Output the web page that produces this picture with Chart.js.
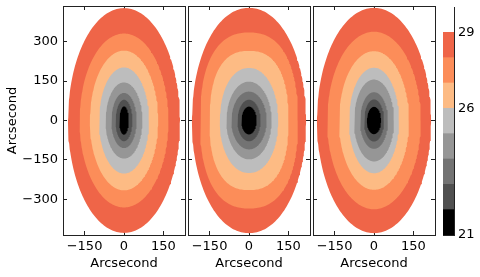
<!DOCTYPE html>
<html>
<head>
<meta charset="utf-8">
<script src="https://cdn.jsdelivr.net/npm/chart.js@4.4.1/dist/chart.umd.min.js"></script>
<style>
  body { margin: 0; background: #fff; }
  #wrap { position: relative; width: 480px; height: 277px; }
  #wrap canvas { position: absolute; left: 0; top: 0; }
</style>
</head>
<body>
<div id="wrap">
  <canvas id="p1" width="480" height="277"></canvas>
  <canvas id="p2" width="480" height="277"></canvas>
  <canvas id="p3" width="480" height="277"></canvas>
  <canvas id="cbar" width="480" height="277"></canvas>
</div>
<script>
// contour levels (upper edge of each filled band), inner to outer
const levels = [22, 23, 24, 25, 26, 27, 28, 29];
const bandColors = ['#000000', '#505050', '#737373', '#969696', '#bdbdbd', '#fdbb84', '#fc8d59', '#ef6548'];

// semi-axes of each contour in arcsec
const leftSemiX  = [18, 32, 48, 70, 95, 130, 169, 213];
const leftSemiY  = [54, 79, 105, 145, 202, 266, 331, 428];
const leftShape  = [2, 2, 2, 2, 2, 2, 2, 2];

const midSemiX   = [29, 44, 67, 86, 111, 150, 186, 217];
const midSemiY   = [53, 79, 110, 148, 200, 265, 335, 429];
const midShape   = [2, 2, 2, 2, 2.1, 2.45, 2.4, 2.05];

const rightSemiX = [27, 38, 53, 76, 95, 133, 178, 217];
const rightSemiY = [52, 80, 108, 156, 201, 264, 338, 429];
const rightShape = [2, 2, 2, 2, 2, 2, 2, 2];

const xTicks = [-150, 0, 150];
const yTicks = [-300, -150, 0, 150, 300];

// colorbar
const cbarEdges = [21, 22, 23, 24, 25, 26, 27, 28, 29, 30];
const cbarColors = bandColors.concat(['#ffffff']);
const cbarTicks = [21, 26, 29];

const FONT = { family: 'DejaVu Sans', size: 13 };
const INK = '#222';

function outline(a, b, p) {
  const pts = [];
  for (let k = 0; k <= 240; k++) {
    const t = k / 240 * 2 * Math.PI;
    const c = Math.cos(t), s = Math.sin(t);
    pts.push({
      x: a * Math.sign(c) * Math.pow(Math.abs(c), 2 / p),
      y: b * Math.sign(s) * Math.pow(Math.abs(s), 2 / p)
    });
  }
  return pts;
}

const minus = v => String(v).replace('-', '\u2212');

// pin a scale to a fixed thickness and drop the label overflow padding
function pin(size) {
  return s => {
    if (s.isHorizontal()) s.height = size; else s.width = size;
    s.paddingTop = s.paddingBottom = s.paddingLeft = s.paddingRight = 0;
  };
}

function axis(pos, min, max, ticks, opts) {
  return {
    type: 'linear',
    axis: (pos === 'top' || pos === 'bottom') ? 'x' : 'y',
    position: pos,
    min: min, max: max,
    afterBuildTicks: s => { s.ticks = ticks.map(v => ({ value: v })); },
    afterFit: pin(opts.size),
    grid: { drawOnChartArea: false, drawTicks: true, tickLength: -4, color: INK },
    border: { display: true, color: INK, width: 1 },
    ticks: { display: !!opts.labels, font: FONT, color: '#000', padding: opts.pad || 0, callback: minus },
    title: opts.title ? { display: true, text: 'Arcsecond', font: FONT, color: '#000', padding: opts.title } : { display: false }
  };
}

function panel(id, left, semiX, semiY, shape, showY) {
  const datasets = levels.map((lv, i) => ({
    label: String(lv),
    data: outline(semiX[i], semiY[i], shape[i]),
    backgroundColor: bandColors[i],
    borderWidth: 0,
    pointRadius: 0,
    fill: 'shape',
    tension: 0,
    order: i
  }));
  new Chart(document.getElementById(id), {
    type: 'line',
    data: { datasets: datasets },
    options: {
      responsive: false,
      animation: false,
      events: [],
      layout: { padding: { left: showY ? 0 : left, right: 480 - (left + 122), top: 6, bottom: 0 } },
      plugins: { legend: { display: false }, tooltip: { enabled: false } },
      scales: {
        x: axis('bottom', -232, 232, xTicks, { size: 42, labels: true, pad: 8, title: { top: 0, bottom: 6 } }),
        x2: axis('top', -232, 232, xTicks, { size: 0 }),
        y: axis('left', -436, 436, yTicks, showY ? { size: 63, labels: true, pad: 9, title: { top: 5, bottom: 0 } } : { size: 0 }),
        y2: axis('right', -436, 436, yTicks, { size: 0 })
      }
    }
  });
}

panel('p1', 63, leftSemiX, leftSemiY, leftShape, true);
panel('p2', 188, midSemiX, midSemiY, midShape, false);
panel('p3', 313, rightSemiX, rightSemiY, rightShape, false);

// colorbar
const cbarSets = cbarColors.map((c, i) => ({
  data: [[cbarEdges[i], cbarEdges[i + 1]]],
  backgroundColor: c,
  borderWidth: 0,
  barPercentage: 1,
  categoryPercentage: 1,
  grouped: false
}));

const plainBorder = { display: true, drawOnChartArea: false, drawTicks: false };

new Chart(document.getElementById('cbar'), {
  type: 'bar',
  data: { labels: [''], datasets: cbarSets },
  options: {
    responsive: false,
    animation: false,
    events: [],
    layout: { padding: { left: 443, right: 0, top: 7, bottom: 42 } },
    plugins: { legend: { display: false }, tooltip: { enabled: false } },
    scales: {
      x: {
        position: 'bottom',
        afterFit: pin(0),
        grid: plainBorder,
        border: { display: true, color: INK, width: 1 },
        ticks: { display: false }
      },
      x2: {
        type: 'category', axis: 'x', position: 'top', labels: [''],
        afterFit: pin(0),
        grid: plainBorder,
        border: { display: true, color: INK, width: 1 },
        ticks: { display: false }
      },
      y: {
        type: 'linear', position: 'right', min: 21, max: 30,
        afterBuildTicks: s => { s.ticks = cbarTicks.map(v => ({ value: v })); },
        afterFit: pin(26),
        grid: { drawOnChartArea: false, tickLength: -4, color: INK },
        border: { display: true, color: INK, width: 1 },
        ticks: { font: FONT, color: '#000', padding: 8 }
      },
      y2: {
        type: 'linear', axis: 'y', position: 'left', min: 21, max: 30,
        afterFit: pin(0),
        grid: plainBorder,
        border: { display: true, color: INK, width: 1 },
        ticks: { display: false }
      }
    }
  }
});
</script>
</body>
</html>
